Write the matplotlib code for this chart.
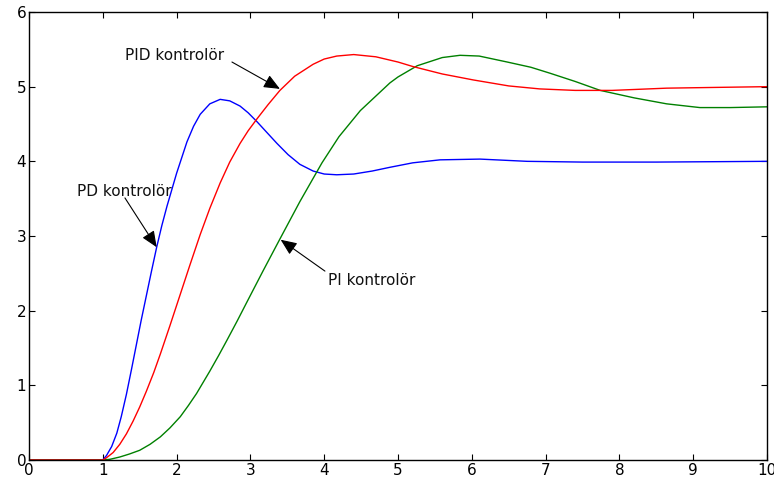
import matplotlib
matplotlib.use("Agg")
import matplotlib.pyplot as plt

# PD controller (blue)
pd_x = [0, 1.0, 1.05, 1.12, 1.19, 1.25, 1.32, 1.39, 1.46, 1.52, 1.59, 1.66, 1.73, 1.80, 1.87,
        2.00, 2.14, 2.23, 2.32, 2.45, 2.59, 2.72, 2.86, 2.97, 3.09, 3.22, 3.36, 3.51, 3.67,
        3.85, 4.00, 4.17, 4.40, 4.65, 4.89, 5.20, 5.57, 6.11, 6.75, 7.50, 8.50, 10.0]
pd_y = [0, 0, 0.06, 0.18, 0.36, 0.58, 0.88, 1.22, 1.57, 1.87, 2.20, 2.53, 2.85, 3.14, 3.40,
        3.84, 4.26, 4.47, 4.63, 4.77, 4.83, 4.81, 4.74, 4.65, 4.53, 4.39, 4.24, 4.09, 3.96,
        3.87, 3.83, 3.82, 3.83, 3.87, 3.92, 3.98, 4.02, 4.03, 4.00, 3.99, 3.99, 4.0]

# PID controller (red)
pid_x = [0, 1.0, 1.05, 1.14, 1.23, 1.32, 1.41, 1.50, 1.59, 1.69, 1.78, 1.91, 2.05, 2.18, 2.32,
         2.45, 2.59, 2.72, 2.86, 2.97, 3.09, 3.24, 3.40, 3.60, 3.85, 4.00, 4.17, 4.40, 4.70,
         5.00, 5.20, 5.60, 6.02, 6.50, 6.92, 7.40, 7.90, 8.64, 9.30, 10.0]
pid_y = [0, 0, 0.03, 0.10, 0.21, 0.35, 0.52, 0.71, 0.92, 1.17, 1.42, 1.80, 2.22, 2.61, 3.02,
         3.37, 3.71, 3.99, 4.24, 4.41, 4.57, 4.76, 4.95, 5.14, 5.30, 5.37, 5.41, 5.43, 5.40,
         5.33, 5.27, 5.17, 5.09, 5.01, 4.97, 4.95, 4.95, 4.98, 4.99, 5.0]

# PI controller (green)
pi_x = [0, 1.0, 1.10, 1.23, 1.36, 1.50, 1.64, 1.78, 1.91, 2.05, 2.16, 2.27, 2.36, 2.45, 2.57,
        2.68, 2.82, 2.95, 3.17, 3.40, 3.67, 3.97, 4.20, 4.49, 4.89, 5.00, 5.26, 5.60, 5.84,
        6.10, 6.48, 6.80, 7.06, 7.40, 7.74, 8.20, 8.64, 9.09, 9.50, 10.0]
pi_y = [0, 0, 0.01, 0.04, 0.08, 0.13, 0.21, 0.31, 0.43, 0.58, 0.73, 0.89, 1.04, 1.19, 1.40,
        1.60, 1.86, 2.11, 2.53, 2.96, 3.46, 3.98, 4.33, 4.68, 5.05, 5.13, 5.28, 5.39, 5.42,
        5.41, 5.33, 5.26, 5.18, 5.07, 4.95, 4.85, 4.77, 4.72, 4.72, 4.73]

x_ticks = list(range(0, 11))
y_ticks = list(range(0, 7))

labels = ["PID kontrolör", "PD kontrolör", "PI kontrolör"]
label_pos = [(1.30, 5.42), (0.65, 3.59), (4.05, 2.41)]
arrow_tail = [(2.75, 5.33), (1.30, 3.51), (4.01, 2.53)]
arrow_head = [(3.40, 4.97), (1.73, 2.85), (3.41, 2.95)]

plt.rcParams['font.family'] = ['DejaVu Sans']

fig = plt.figure(figsize=(7.74, 4.79), dpi=100)
ax = fig.add_axes([29 / 774, 1 - 460 / 479, (767 - 29) / 774, (460 - 12) / 479])

ax.plot(pd_x, pd_y, color='#0000ff', lw=1.0)
ax.plot(pi_x, pi_y, color='#008000', lw=1.0)
ax.plot(pid_x, pid_y, color='#ff0000', lw=1.0)

ax.set_xlim(0, 10)
ax.set_ylim(0, 6)
ax.set_xticks(x_ticks)
ax.set_yticks(y_ticks)
ax.tick_params(direction='in', length=4, width=0.8, top=True, right=True,
               labelsize=11, pad=2, colors='black')
for s in ax.spines.values():
    s.set_linewidth(1.0)

for txt, pos, tail, head in zip(labels, label_pos, arrow_tail, arrow_head):
    ax.text(pos[0], pos[1], txt, fontsize=11, ha='left', va='center', color='#111111')
    ax.annotate('', xy=head, xytext=tail,
                arrowprops=dict(arrowstyle='-|>,head_length=0.7,head_width=0.3',
                                color='black', lw=0.8, mutation_scale=14,
                                shrinkA=0, shrinkB=0))

fig.savefig('out.png', dpi=100)
